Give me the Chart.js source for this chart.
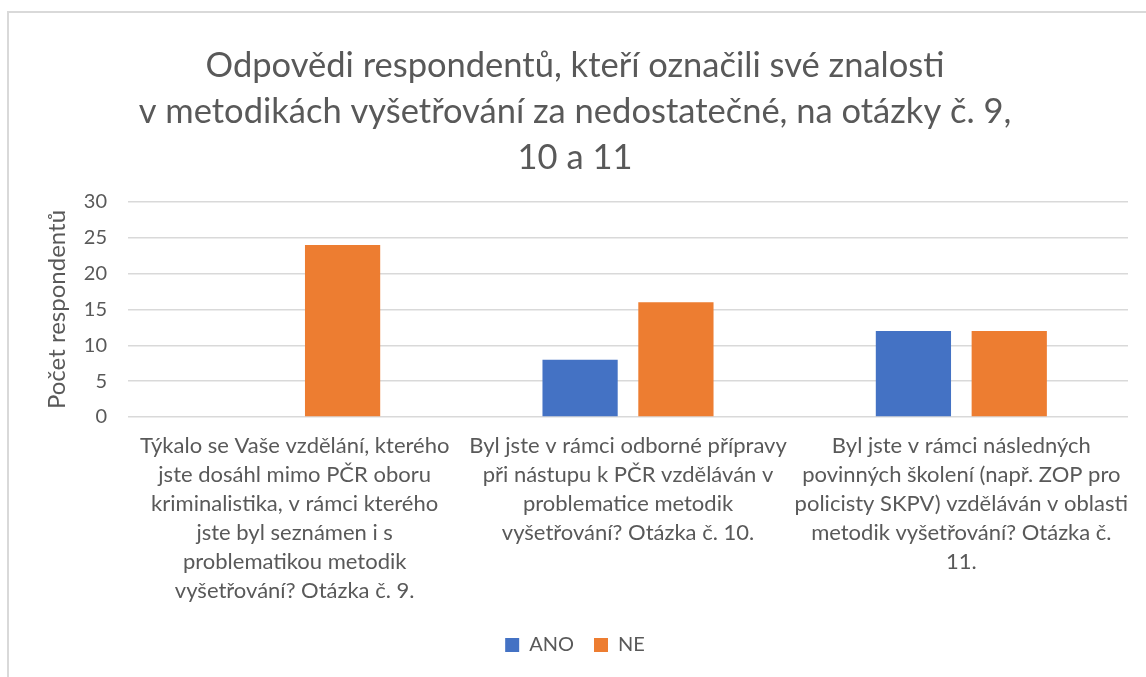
<!DOCTYPE html>
<html>
<head>
<meta charset="utf-8">
<script src="https://cdn.jsdelivr.net/npm/chart.js@4"></script>
<style>
  html, body { margin: 0; padding: 0; background: #fff; overflow: hidden; }
  #frame { position: absolute; left: 7px; top: 11px; right: -5px; bottom: -5px;
           border-left: 2px solid #d9d9d9; border-top: 2px solid #d9d9d9; }
  #graf { position: absolute; left: 0; top: 0; }
</style>
</head>
<body>
<div id="frame"></div>
<canvas id="graf" width="1146" height="677"></canvas>
<script>
var otazky = [
  ['Týkalo se Vaše vzdělání, kterého', 'jste dosáhl mimo PČR oboru', 'kriminalistika, v rámci kterého', 'jste byl seznámen i s', 'problematikou metodik', 'vyšetřování? Otázka č. 9.'],
  ['Byl jste v rámci odborné přípravy', 'při nástupu k PČR vzděláván v', 'problematice metodik', 'vyšetřování? Otázka č. 10.'],
  ['Byl jste v rámci následných', 'povinných školení (např. ZOP pro', 'policisty SKPV) vzděláván v oblasti', 'metodik vyšetřování? Otázka č.', '11.']
];
var ano = [0, 8, 12];
var ne = [24, 16, 12];
var nadpis = ['Odpovědi respondentů, kteří označili své znalosti', 'v metodikách vyšetřování za nedostatečné, na otázky č. 9,', '10 a 11'];

var pismo = 'Lato, "Open Sans", sans-serif';
var seda = '#595959';

new Chart('graf', {
  type: 'bar',
  data: {
    labels: otazky,
    datasets: [
      { label: 'ANO', data: ano, backgroundColor: '#4472c4' },
      { label: 'NE', data: ne, backgroundColor: '#ed7d31' }
    ]
  },
  options: {
    responsive: false,
    animation: false,
    devicePixelRatio: 1,
    categoryPercentage: 0.575,
    barPercentage: 0.785,
    layout: { padding: { left: 22, right: 18, top: 0, bottom: 12 } },
    plugins: {
      title: {
        display: true,
        text: nadpis,
        color: seda,
        font: { family: pismo, size: 34.5, weight: 'normal', lineHeight: 46 / 34.5 },
        padding: { top: 43, bottom: 21 }
      },
      legend: {
        position: 'bottom',
        labels: {
          color: seda,
          font: { family: pismo, size: 20 },
          boxWidth: 14, boxHeight: 14, padding: 20
        }
      },
      tooltip: { enabled: false }
    },
    scales: {
      x: {
        grid: { display: false },
        border: { display: false },
        ticks: {
          color: seda, padding: 6, maxRotation: 0, autoSkip: false,
          font: { family: pismo, size: 22, lineHeight: 29 / 22 }
        },
        afterFit: function (s) { s.height = 198; }
      },
      y: {
        min: 0, max: 30,
        ticks: { stepSize: 5, color: seda, padding: 21, font: { family: pismo, size: 20 } },
        grid: { color: '#d9d9d9', lineWidth: 1.5, drawTicks: false },
        border: { display: false },
        title: {
          display: true, text: 'Počet respondentů', color: seda,
          font: { family: pismo, size: 24 }, padding: { top: 21, bottom: 0 }
        },
        afterFit: function (s) { s.width = 106; }
      }
    }
  }
});
</script>
</body>
</html>
